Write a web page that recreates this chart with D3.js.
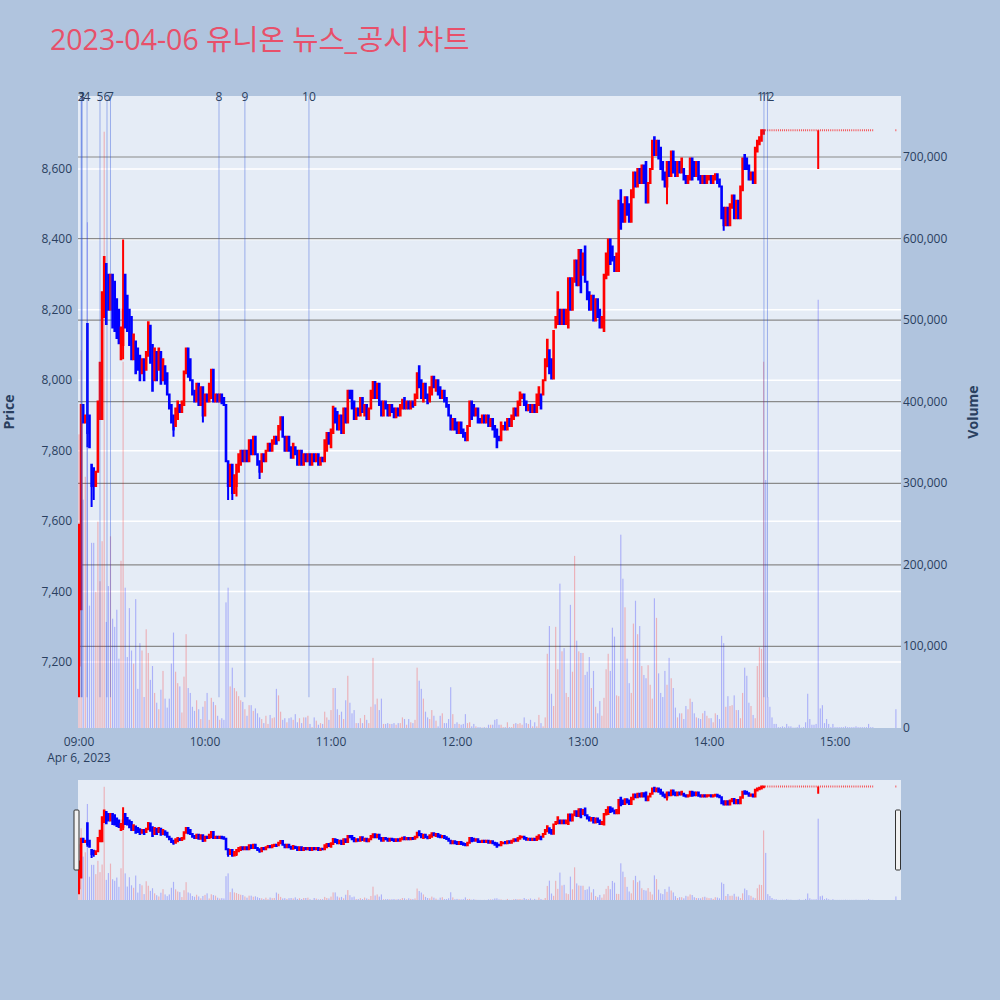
<!DOCTYPE html>
<html><head><meta charset="utf-8">
<script src="https://cdn.jsdelivr.net/npm/d3@7/dist/d3.min.js"></script>
<style>body{margin:0;background:#b0c4de}svg{display:block}</style>
</head><body><svg id="c" width="1000" height="1000"></svg>
<script>
// ---- data (minute candles, 2023-04-06) ----
const sessionDate = [2023, 3, 6];
// minute offsets from 09:00 for every candle (trading minutes 0..378, then the 15:29 close)
const candleMinutes = d3.range(0, 379).concat([389]);
const openP = [
7190,7350,7930,7880,8160,7900,7760,7750,7700,7740,7890,7890,8180,8330,8300,8200,8300,8280,8230,8200,
8060,8100,8300,8240,8200,8180,8060,8110,8090,8070,8020,8060,8030,8070,8155,8100,8000,8080,8030,8080,
8000,8040,8020,7960,7930,7900,7870,7890,7930,7910,7930,8020,8090,8060,8000,7970,7940,7990,7930,7980,
7900,7960,7940,7950,8030,7940,7960,7940,7960,7950,7930,7770,7700,7760,7680,7700,7740,7760,7800,7770,
7800,7770,7830,7790,7840,7790,7770,7740,7790,7770,7800,7820,7800,7820,7840,7830,7860,7895,7840,7800,
7840,7810,7780,7810,7800,7760,7800,7760,7790,7770,7790,7760,7790,7770,7790,7760,7780,7770,7800,7850,
7810,7850,7920,7910,7860,7900,7850,7920,7880,7970,7970,7940,7890,7920,7900,7950,7900,7930,7890,7920,
7950,7995,7950,7990,7940,7900,7940,7930,7900,7930,7920,7895,7920,7900,7920,7950,7920,7940,7920,7940,
7930,7950,8040,8000,7940,7990,7960,7940,7960,8010,7970,8000,7980,7950,7970,7950,7930,7900,7860,7890,
7880,7850,7880,7860,7850,7830,7870,7940,7930,7900,7920,7890,7880,7900,7880,7900,7870,7890,7870,7860,
7840,7830,7860,7880,7860,7890,7870,7890,7920,7900,7930,7950,7960,7940,7915,7930,7910,7930,7910,7930,
7960,7960,8000,8040,8085,8060,8005,8150,8160,8200,8160,8200,8160,8150,8290,8200,8280,8340,8270,8370,
8300,8380,8280,8250,8200,8240,8170,8230,8200,8150,8140,8290,8300,8400,8380,8350,8310,8310,8540,8500,
8450,8520,8500,8450,8520,8590,8550,8600,8560,8610,8620,8505,8560,8600,8690,8640,8680,8660,8620,8590,
8550,8620,8580,8650,8620,8580,8620,8590,8600,8580,8560,8570,8630,8620,8580,8620,8580,8560,8580,8560,
8570,8580,8560,8570,8585,8570,8550,8490,8440,8490,8440,8490,8525,8460,8510,8460,8540,8640,8630,8610,
8570,8590,8560,8650,8670,8680,8700,8710,8710,8710,8710,8710,8710,8710,8710,8710,8710,8710,8710,8710,
8710,8710,8710,8710,8710,8710,8710,8710,8710,8710,8710,8710,8710,8710,8710,8710,8710,8710,8710,8710,
8710,8710,8710,8710,8710,8710,8710,8710,8710,8710,8710,8710,8710,8710,8710,8710,8710,8710,8710,8710
];
const closeP = [
7590,7930,7880,7900,7850,7810,7700,7700,7740,7940,8050,8250,8350,8160,8200,8300,8150,8140,8120,8105,
8150,8200,8150,8140,8100,8060,8130,8020,8030,8000,8060,8000,8080,8165,8050,7970,8090,8000,8090,7990,
8060,7990,7960,7920,7880,7860,7920,7940,7910,7940,8025,8090,8010,8000,7960,7940,7990,7930,7980,7900,
7960,7940,7990,8030,7940,7960,7940,7960,7935,7930,7770,7700,7760,7680,7730,7760,7790,7800,7770,7800,
7770,7830,7790,7840,7790,7760,7740,7790,7770,7800,7820,7800,7830,7840,7820,7870,7895,7840,7800,7840,
7800,7780,7820,7790,7760,7800,7760,7790,7770,7790,7760,7790,7770,7790,7760,7780,7770,7830,7850,7820,
7860,7925,7880,7860,7900,7850,7920,7880,7970,7950,7920,7890,7920,7900,7950,7910,7930,7890,7920,7970,
7995,7950,7990,7930,7900,7940,7920,7900,7930,7910,7895,7920,7900,7930,7945,7920,7940,7920,7940,7925,
7960,8020,7980,7950,7990,7950,7935,7980,8010,7980,8000,7960,7950,7970,7940,7925,7900,7860,7890,7860,
7850,7880,7850,7840,7830,7870,7940,7890,7900,7920,7880,7880,7900,7880,7900,7870,7890,7860,7840,7810,
7830,7880,7870,7860,7890,7870,7900,7920,7900,7940,7965,7960,7930,7915,7930,7910,7930,7910,7960,7980,
7920,8000,8060,8115,8020,8005,8140,8180,8250,8160,8200,8160,8200,8290,8200,8290,8340,8270,8370,8250,
8360,8280,8230,8200,8240,8170,8230,8180,8150,8180,8300,8360,8400,8330,8340,8310,8360,8510,8430,8450,
8520,8470,8450,8540,8590,8550,8600,8560,8610,8560,8505,8560,8600,8680,8640,8680,8630,8600,8570,8550,
8620,8580,8650,8590,8580,8620,8590,8630,8570,8560,8580,8630,8570,8580,8620,8570,8560,8580,8560,8580,
8580,8560,8580,8585,8560,8550,8460,8440,8490,8440,8500,8525,8460,8510,8460,8550,8630,8600,8600,8570,
8590,8560,8660,8680,8690,8710,8710,8710,8710,8710,8710,8710,8710,8710,8710,8710,8710,8710,8710,8710,
8710,8710,8710,8710,8710,8710,8710,8710,8710,8710,8710,8710,8710,8710,8710,8710,8710,8710,8710,8710,
8710,8710,8710,8710,8710,8710,8710,8710,8710,8710,8710,8710,8710,8710,8710,8710,8710,8710,8710,8710
];
// wicks reaching beyond the candle body: [candle index, price]
const highWicks = [[21, 8400]];
const lowWicks = [[0, 7100], [4, 7810], [6, 7640], [7, 7660], [21, 8060], [45, 7840], [59, 7880], [71, 7660],
  [73, 7660], [75, 7670], [86, 7720], [280, 8500], [307, 8425], [352, 8600]];
const volume = [
360000,463000,280000,308000,620000,150000,227000,227000,167000,253000,180000,229000,731000,130000,174000,235000,134000,124000,145000,85000,
205000,449000,172000,87000,147000,95000,79000,158000,48000,104000,95000,38000,121000,92000,59000,76000,43000,31000,23000,47000,
70000,36000,25000,36000,79000,117000,69000,55000,51000,19000,63000,115000,49000,43000,26000,21000,34000,23000,11000,26000,
33000,43000,10000,37000,32000,28000,15000,10000,12000,10000,154000,172000,51000,74000,49000,45000,39000,34000,32000,23000,
15000,28000,28000,21000,24000,18000,13000,11000,6000,15000,5000,16000,12000,13000,48000,40000,20000,10000,12000,7000,
12000,13000,10000,17000,7000,12000,6000,13000,13000,15000,5000,1000,13000,9000,4000,6000,5000,20000,13000,10000,
22000,49000,49000,23000,16000,20000,11000,34000,64000,31000,18000,22000,6000,6000,12000,6000,16000,10000,6000,26000,
86000,29000,36000,22000,36000,5000,5000,6000,5000,5000,6000,4000,6000,6000,13000,11000,4000,11000,7000,6000,
10000,74000,58000,48000,36000,20000,13000,11000,22000,15000,9000,2000,15000,18000,6000,6000,11000,50000,17000,5000,
7000,5000,4000,5000,17000,6000,7000,2000,5000,2000,1000,1000,500,1000,500,4000,4000,4000,10000,11000,
4000,4000,1000,1000,7000,1000,1000,5000,6000,5000,6000,4000,13000,6000,5000,10000,2000,7000,2000,16000,
6000,2000,13000,91000,125000,42000,27000,124000,72000,177000,94000,98000,43000,38000,151000,69000,211000,107000,94000,92000,
92000,65000,69000,87000,49000,70000,26000,18000,33000,15000,37000,72000,91000,70000,123000,112000,40000,39000,237000,183000,
148000,85000,55000,43000,128000,156000,115000,125000,76000,65000,61000,77000,53000,36000,159000,135000,67000,43000,38000,70000,
53000,86000,61000,49000,25000,13000,18000,18000,11000,27000,23000,36000,32000,18000,13000,12000,11000,18000,21000,15000,
12000,12000,7000,18000,16000,11000,113000,104000,26000,39000,27000,28000,40000,22000,22000,12000,43000,74000,64000,31000,
27000,16000,12000,76000,99000,97000,449000,304000,38000,26000,13000,5000,5000,1000,1000,2000,1000,5000,2000,2000,
500,500,1000,4000,500,1000,7000,42000,11000,4000,4000,5000,525000,24000,28000,6000,11000,5000,1000,5000,
1000,1000,1000,1000,1000,2000,1000,1000,1000,1000,2000,1000,1000,1000,1000,1000,5000,1000,1000,23000
];
// news / disclosure markers
const newsLabels = ["1", "2", "3", "4", "5", "6", "7", "8", "9", "10", "11", "12"];
const newsTimes = ["09:01:30", "09:01:00", "09:01:15", "09:03:50", "09:10:00", "09:13:20", "09:15:00",
  "10:06:40", "10:19:00", "10:49:30", "14:26:10", "14:27:50"];
const newsLineBottom = 7100;
const priceTicks = [7200, 7400, 7600, 7800, 8000, 8200, 8400, 8600];
const volumeTicks = [0, 100000, 200000, 300000, 400000, 500000, 600000, 700000];
const titleText = "2023-04-06 유니온 뉴스_공시 차트";

// ---- layout ----
const W = 1000, H = 1000;
const plot = {l: 78, r: 901, t: 96, b: 728};
const slider = {t: 780, b: 900};
const FONT = "'Open Sans','Noto Sans CJK KR',sans-serif";
const TXT = "#2a3f5f";
const UP = "#ff0000", DOWN = "#0000ff";

const base = new Date(sessionDate[0], sessionDate[1], sessionDate[2], 9, 0, 0);
const t = m => new Date(base.getTime() + m * 60000);
const parseHMS = s => { const [h, mi, se] = s.split(":").map(Number); return new Date(sessionDate[0], sessionDate[1], sessionDate[2], h, mi, se); };

const x = d3.scaleTime().domain([t(-0.476), t(391.43)]).range([plot.l, plot.r]);
const yP = d3.scaleLinear().domain([7012.6, 8807.3]).range([plot.b, plot.t]);
const yV = d3.scaleLinear().domain([0, 774781]).range([plot.b, plot.t]);
const yPs = d3.scaleLinear().domain(yP.domain()).range([slider.b, slider.t]);
const yVs = d3.scaleLinear().domain(yV.domain()).range([slider.b, slider.t]);

const candles = candleMinutes.map((m, i) => {
  const o = openP[i], c = closeP[i];
  return {time: t(m), o, c, h: Math.max(o, c), l: Math.min(o, c), v: volume[i]};
});
highWicks.forEach(([i, p]) => { candles[i].h = p; });
lowWicks.forEach(([i, p]) => { candles[i].l = p; });

const svg = d3.select("#c");
svg.append("rect").attr("width", W).attr("height", H).attr("fill", "#b0c4de");

// title
svg.append("text").attr("x", 50).attr("y", 50).attr("font-family", FONT).attr("font-size", 28.5)
  .attr("fill", "#e8506a").text(titleText);

const defs = svg.append("defs");
defs.append("clipPath").attr("id", "clipMain").append("rect")
  .attr("x", plot.l).attr("y", plot.t).attr("width", plot.r - plot.l).attr("height", plot.b - plot.t);
defs.append("clipPath").attr("id", "clipSl").append("rect")
  .attr("x", plot.l).attr("y", slider.t).attr("width", plot.r - plot.l).attr("height", slider.b - slider.t);

// plot background
svg.append("rect").attr("x", plot.l).attr("y", plot.t).attr("width", plot.r - plot.l).attr("height", plot.b - plot.t).attr("fill", "#e5ecf6");

// grids
const grid = svg.append("g");
grid.selectAll(".gp").data(priceTicks).join("line")
  .attr("x1", plot.l).attr("x2", plot.r).attr("y1", d => yP(d)).attr("y2", d => yP(d))
  .attr("stroke", "#ffffff").attr("stroke-width", 1.5);
grid.selectAll(".gv").data(volumeTicks.slice(1)).join("line")
  .attr("x1", plot.l).attr("x2", plot.r).attr("y1", d => yV(d)).attr("y2", d => yV(d))
  .attr("stroke", "#8a8a8a").attr("stroke-width", 1.2);

function drawCandles(g, ys, barScale) {
  const bw = 0.63;
  const col = d => d.c < d.o ? DOWN : UP;
  const cg = g.append("g");
  cg.selectAll("path").data(candles).join("path")
    .attr("d", d => {
      const cx = x(d.time), yt = ys(Math.max(d.o, d.c)), yb = ys(Math.min(d.o, d.c));
      return `M${cx - bw / 2},${yb}H${cx + bw / 2}V${yt}H${cx - bw / 2}Z` +
        `M${cx},${yt}V${ys(d.h)}M${cx},${yb}V${ys(d.l)}`;
    })
    .attr("fill", col).attr("stroke", col).attr("stroke-width", 2);
  const vg = g.append("g");
  const vw = 1.15;
  vg.selectAll("rect").data(candles.filter(d => d.v > 0)).join("rect")
    .attr("x", d => x(d.time) - vw / 2).attr("width", vw)
    .attr("y", d => barScale(d.v)).attr("height", d => barScale(0) - barScale(d.v))
    .attr("fill", d => d.c > d.o ? "rgba(255,0,0,0.25)" : "rgba(0,0,255,0.25)");
}

const main = svg.append("g").attr("clip-path", "url(#clipMain)");
drawCandles(main, yP, yV);

// news lines
const news = newsTimes.map((s, i) => ({time: parseHMS(s), label: newsLabels[i]}));
main.selectAll(".nl").data(news).join("line")
  .attr("x1", d => x(d.time)).attr("x2", d => x(d.time))
  .attr("y1", yP(newsLineBottom)).attr("y2", plot.t)
  .attr("stroke", "rgba(40,80,220,0.4)").attr("stroke-width", 1);
svg.selectAll(".nt").data(news).join("text")
  .attr("x", d => x(d.time)).attr("y", plot.t + 5)
  .attr("text-anchor", "middle").attr("font-family", FONT).attr("font-size", 12)
  .attr("fill", TXT).text(d => d.label);

// axes labels
const fmt = d3.format(",");
svg.selectAll(".pt").data(priceTicks).join("text")
  .attr("x", plot.l - 6).attr("y", d => yP(d) + 4).attr("text-anchor", "end")
  .attr("font-family", FONT).attr("font-size", 12).attr("fill", TXT).text(d => fmt(d));
svg.selectAll(".vt").data(volumeTicks).join("text")
  .attr("x", plot.r + 2).attr("y", d => yV(d) + 4).attr("text-anchor", "start")
  .attr("font-family", FONT).attr("font-size", 12).attr("fill", TXT).text(d => fmt(d));

const hourTicks = d3.timeHour.range(t(0), t(392));
svg.selectAll(".xt").data(hourTicks).join("text")
  .attr("x", d => x(d)).attr("y", 746).attr("text-anchor", "middle")
  .attr("font-family", FONT).attr("font-size", 12).attr("fill", TXT).text(d => d3.timeFormat("%H:%M")(d));
svg.append("text").attr("x", x(hourTicks[0])).attr("y", 762).attr("text-anchor", "middle")
  .attr("font-family", FONT).attr("font-size", 12).attr("fill", TXT).text(d3.timeFormat("%b %-d, %Y")(hourTicks[0]));

svg.append("text").attr("transform", `translate(14,${(plot.t + plot.b) / 2}) rotate(-90)`)
  .attr("text-anchor", "middle").attr("font-family", FONT).attr("font-size", 14).attr("font-weight", "bold")
  .attr("fill", TXT).text("Price");
svg.append("text").attr("transform", `translate(978,${(plot.t + plot.b) / 2}) rotate(-90)`)
  .attr("text-anchor", "middle").attr("font-family", FONT).attr("font-size", 14).attr("font-weight", "bold")
  .attr("fill", TXT).text("Volume");

// range slider
svg.append("rect").attr("x", plot.l).attr("y", slider.t).attr("width", plot.r - plot.l).attr("height", slider.b - slider.t)
  .attr("fill", "#e5ecf6");
const sl = svg.append("g").attr("clip-path", "url(#clipSl)");
drawCandles(sl, yPs, yVs);
[plot.l - 1.5, plot.r - 3].forEach(hx => {
  svg.append("rect").attr("x", hx - 2.5).attr("y", slider.t + 30).attr("width", 5).attr("height", 60)
    .attr("fill", "#f2f2f2").attr("stroke", "#333").attr("stroke-width", 1).attr("rx", 1);
});
</script>
</body></html>
